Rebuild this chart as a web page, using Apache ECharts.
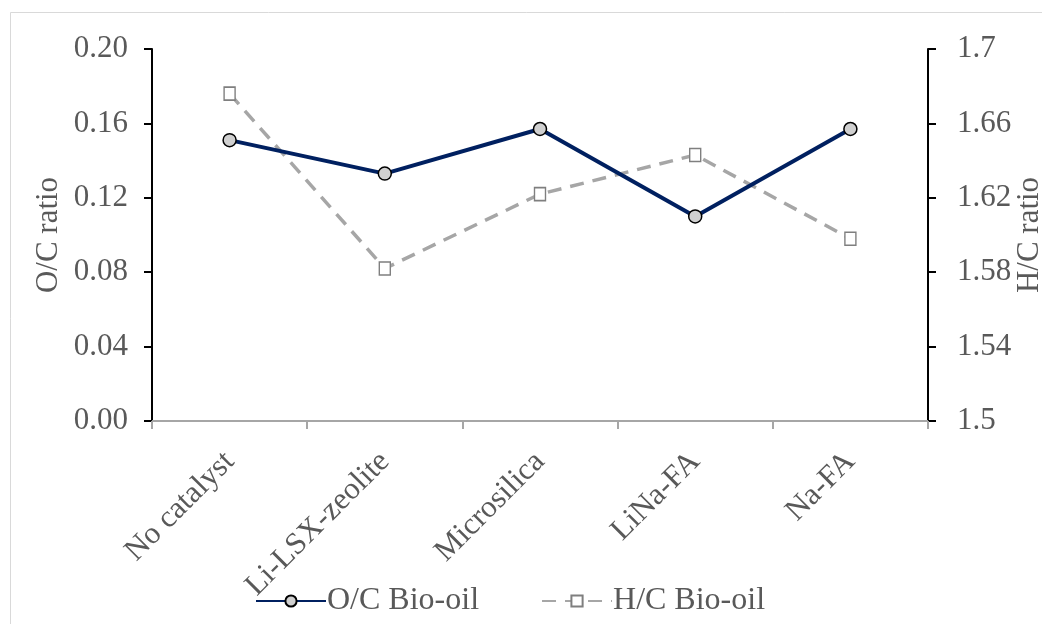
<!DOCTYPE html>
<html>
<head>
<meta charset="utf-8">
<script src="https://cdn.jsdelivr.net/npm/echarts@6/dist/echarts.min.js"></script>
<style>
  html, body { margin: 0; padding: 0; background: #fff; }
  #chart { width: 1042px; height: 624px; }
</style>
</head>
<body>
<div id="chart"></div>
<script>
// Catalyst runs and elemental ratios of the bio-oil
const categories = ['No catalyst', 'Li-LSX-zeolite', 'Microsilica', 'LiNa-FA', 'Na-FA'];
const ocRatio = [0.151, 0.133, 0.157, 0.110, 0.157];
const hcRatio = [1.676, 1.582, 1.622, 1.643, 1.598];
const ocTicks = [0, 0.2, 0.04];
const hcTicks = [1.5, 1.7, 0.04];

const font = '"Liberation Serif", "Times New Roman", serif';
const textColor = '#595959';
const fs = 31;

const chart = echarts.init(document.getElementById('chart'), null, { renderer: 'canvas' });

chart.setOption({
  animation: false,
  backgroundColor: '#ffffff',
  graphic: [{
    type: 'rect',
    shape: { x: 10.5, y: 12.5, width: 1060, height: 640 },
    style: { fill: 'none', stroke: '#d9d9d9', lineWidth: 1 },
    silent: true
  }],
  grid: { left: 152, right: 114, top: 49, bottom: 203, containLabel: false, outerBoundsMode: 'none' },
  legend: {
    bottom: 2,
    left: 250,
    itemWidth: 70,
    itemHeight: 14,
    itemGap: 62,
    textStyle: { fontFamily: font, fontSize: 32, color: textColor, padding: [0, 0, 0, -4] },
    data: ['O/C Bio-oil', 'H/C Bio-oil']
  },
  xAxis: {
    type: 'category',
    data: categories,
    boundaryGap: true,
    axisLine: { lineStyle: { color: '#a6a6a6', width: 2 } },
    axisTick: { show: true, length: 8, lineStyle: { color: '#a6a6a6', width: 2 } },
    axisLabel: {
      rotate: 45, interval: 0, margin: 36,
      fontFamily: font, fontSize: fs, color: textColor
    }
  },
  yAxis: [{
    type: 'value',
    min: ocTicks[0], max: ocTicks[1], interval: ocTicks[2],
    name: 'O/C ratio',
    nameLocation: 'middle',
    nameGap: 88,
    nameRotate: 90,
    nameMoveOverlap: false,
    nameTextStyle: { fontFamily: font, fontSize: fs, color: textColor },
    axisLine: { show: true, lineStyle: { color: '#000', width: 2 } },
    axisTick: { show: true, length: 8, lineStyle: { color: '#000', width: 2 } },
    splitLine: { show: false },
    axisLabel: {
      margin: 24, fontFamily: font, fontSize: fs, color: textColor,
      formatter: v => v.toFixed(2)
    }
  }, {
    type: 'value',
    position: 'right',
    min: hcTicks[0], max: hcTicks[1], interval: hcTicks[2],
    name: 'H/C ratio',
    nameLocation: 'middle',
    nameGap: 86,
    nameRotate: 90,
    nameMoveOverlap: false,
    nameTextStyle: { fontFamily: font, fontSize: fs, color: textColor },
    axisLine: { show: true, lineStyle: { color: '#000', width: 2 } },
    axisTick: { show: true, length: 8, lineStyle: { color: '#000', width: 2 } },
    splitLine: { show: false },
    axisLabel: {
      margin: 29, fontFamily: font, fontSize: fs, color: textColor,
      formatter: v => String(parseFloat(v.toFixed(2)))
    }
  }],
  series: [{
    name: 'O/C Bio-oil',
    type: 'line',
    yAxisIndex: 0,
    data: ocRatio,
    symbol: 'circle',
    symbolSize: 13,
    lineStyle: { color: '#002060', width: 4 },
    itemStyle: { color: '#d0d0d0', borderColor: '#000', borderWidth: 1.5 },
    z: 3
  }, {
    name: 'H/C Bio-oil',
    type: 'line',
    yAxisIndex: 1,
    data: hcRatio,
    symbol: 'rect',
    symbolSize: [11, 13],
    lineStyle: { color: '#a6a6a6', width: 3.5, type: [14, 9] },
    itemStyle: { color: '#ffffff', borderColor: '#7f7f7f', borderWidth: 1.5 },
    z: 2
  }]
});
</script>
</body>
</html>
